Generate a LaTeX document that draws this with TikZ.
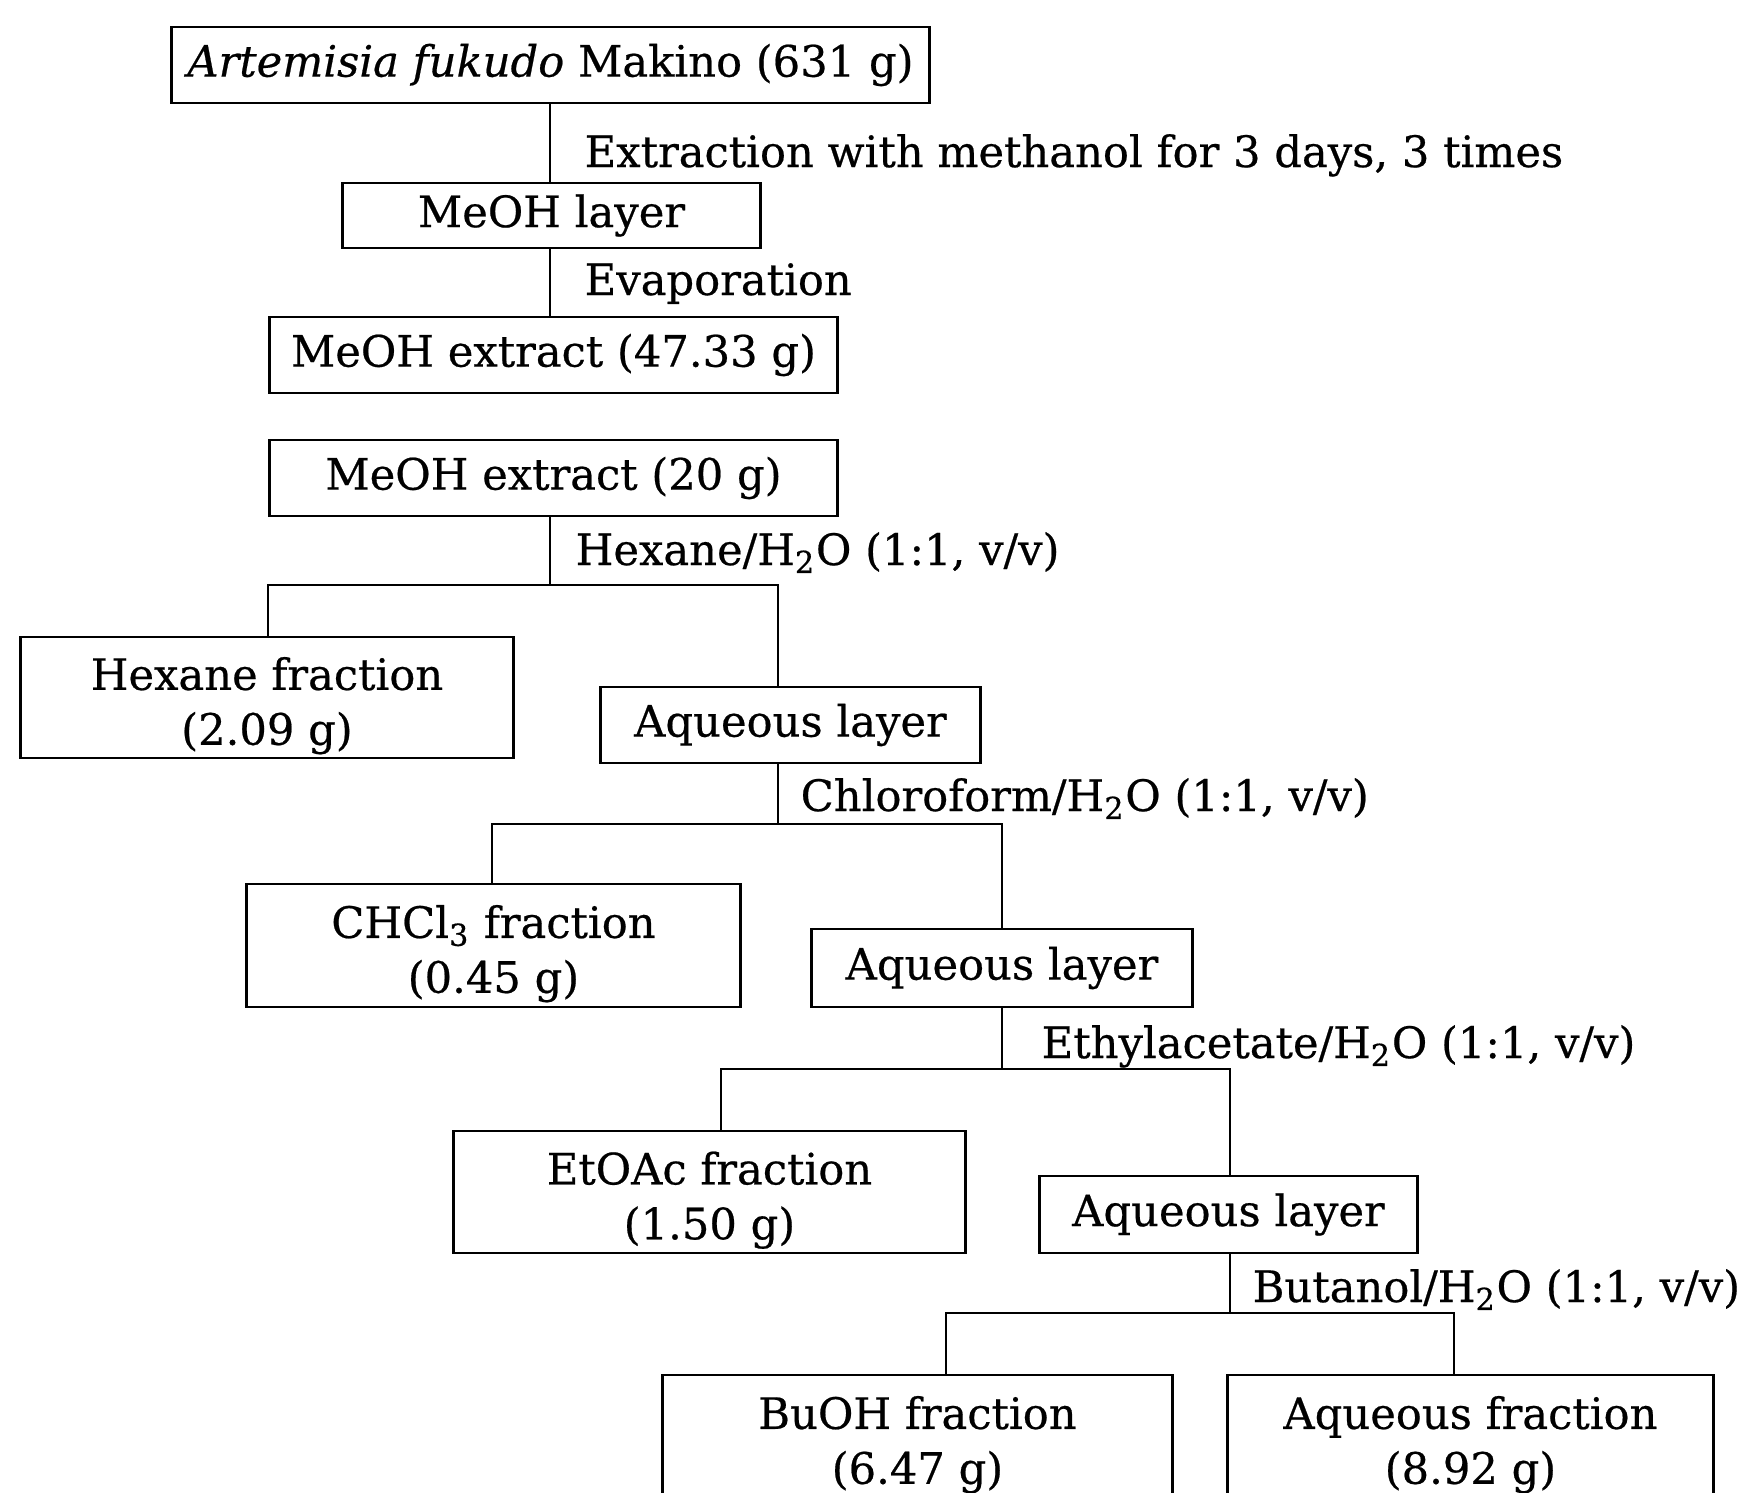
\documentclass[tikz,border=0pt]{standalone}
\usepackage{fontspec}
\setmainfont{DejaVu Serif}[FakeBold=0.5]
\newcommand{\lowtop}{\rule{0pt}{14pt}}
\begin{document}
\begin{tikzpicture}[x=0.01cm,y=-0.01cm,font=\fontsize{12.3}{15.6}\selectfont,
  box/.style={draw,line width=.8pt,inner sep=0pt,align=center},
  lbl/.style={anchor=base west,inner sep=0pt}]
\clip (0,0) rectangle (1750,1493);
% extraction
\node[box,minimum width=7.57cm,minimum height=.76cm] (plant) at (550.5,65) {\textit{Artemisia fukudo} Makino (631 g)};
\node[box,minimum width=4.17cm,minimum height=.65cm] (layer) at (551.5,215.5) {MeOH layer};
\node[box,minimum width=5.67cm,minimum height=.76cm] (ext) at (553.5,355) {MeOH extract (47.33 g)};
\draw[line width=.6pt] (plant.south -| 550,0) -- (layer.north -| 550,0);
\draw[line width=.6pt] (layer.south -| 550,0) -- (ext.north -| 550,0);
\node[lbl] at (584,167) {Extraction with methanol for 3 days, 3 times};
\node[lbl] at (584,295) {Evaporation};
% partition
\node[box,minimum width=5.67cm,minimum height=.76cm] (ext20) at (553.5,478) {MeOH extract (20 g)};
\node[box,minimum width=4.92cm,minimum height=1.21cm] (hex) at (267,697.5) {\lowtop Hexane fraction\\ (2.09 g)};
\node[box,minimum width=3.79cm,minimum height=.76cm] (aq1) at (790.5,725) {Aqueous layer};
\node[box,minimum width=4.93cm,minimum height=1.23cm] (chl) at (493.5,945.5) {\lowtop CHCl\textsubscript{3} fraction\\ (0.45 g)};
\node[box,minimum width=3.80cm,minimum height=.78cm] (aq2) at (1002,968) {Aqueous layer};
\node[box,minimum width=5.11cm,minimum height=1.22cm] (eta) at (709.5,1192) {\lowtop EtOAc fraction\\ (1.50 g)};
\node[box,minimum width=3.77cm,minimum height=.77cm] (aq3) at (1228.5,1214.5) {Aqueous layer};
\node[box,minimum width=5.09cm,minimum height=1.23cm] (buoh) at (917.5,1436.5) {\lowtop BuOH fraction\\ (6.47 g)};
\node[box,minimum width=4.85cm,minimum height=1.23cm] (aqfr) at (1470.5,1436.5) {\lowtop Aqueous fraction\\ (8.92 g)};
% bars
\coordinate (b1l) at (268,585);  \coordinate (b1r) at (778,585);
\coordinate (b2l) at (492,824);  \coordinate (b2r) at (1002,824);
\coordinate (b3l) at (721,1069); \coordinate (b3r) at (1230,1069);
\coordinate (b4l) at (946,1313); \coordinate (b4r) at (1454,1313);
\draw[line width=.6pt] (ext20.south -| 550,0) -- (550,585);
\draw[line width=.6pt] (hex.north -| b1l) -- (b1l) -- (b1r) -- (aq1.north -| b1r);
\draw[line width=.6pt] (aq1.south -| b1r) -- (b1r |- b2l);
\draw[line width=.6pt] (chl.north -| b2l) -- (b2l) -- (b2r) -- (aq2.north -| b2r);
\draw[line width=.6pt] (aq2.south -| b2r) -- (b2r |- b3l);
\draw[line width=.6pt] (eta.north -| b3l) -- (b3l) -- (b3r) -- (aq3.north -| b3r);
\draw[line width=.6pt] (aq3.south -| b3r) -- (b3r |- b4l);
\draw[line width=.6pt] (buoh.north -| b4l) -- (b4l) -- (b4r) -- (aqfr.north -| b4r);
\node[lbl] at (575,565) {Hexane/H\textsubscript{2}O (1:1, v/v)};
\node[lbl] at (800,811) {Chloroform/H\textsubscript{2}O (1:1, v/v)};
\node[lbl] at (1041,1058) {Ethylacetate/H\textsubscript{2}O (1:1, v/v)};
\node[lbl] at (1252,1302) {Butanol/H\textsubscript{2}O (1:1, v/v)};
\end{tikzpicture}
\end{document}
